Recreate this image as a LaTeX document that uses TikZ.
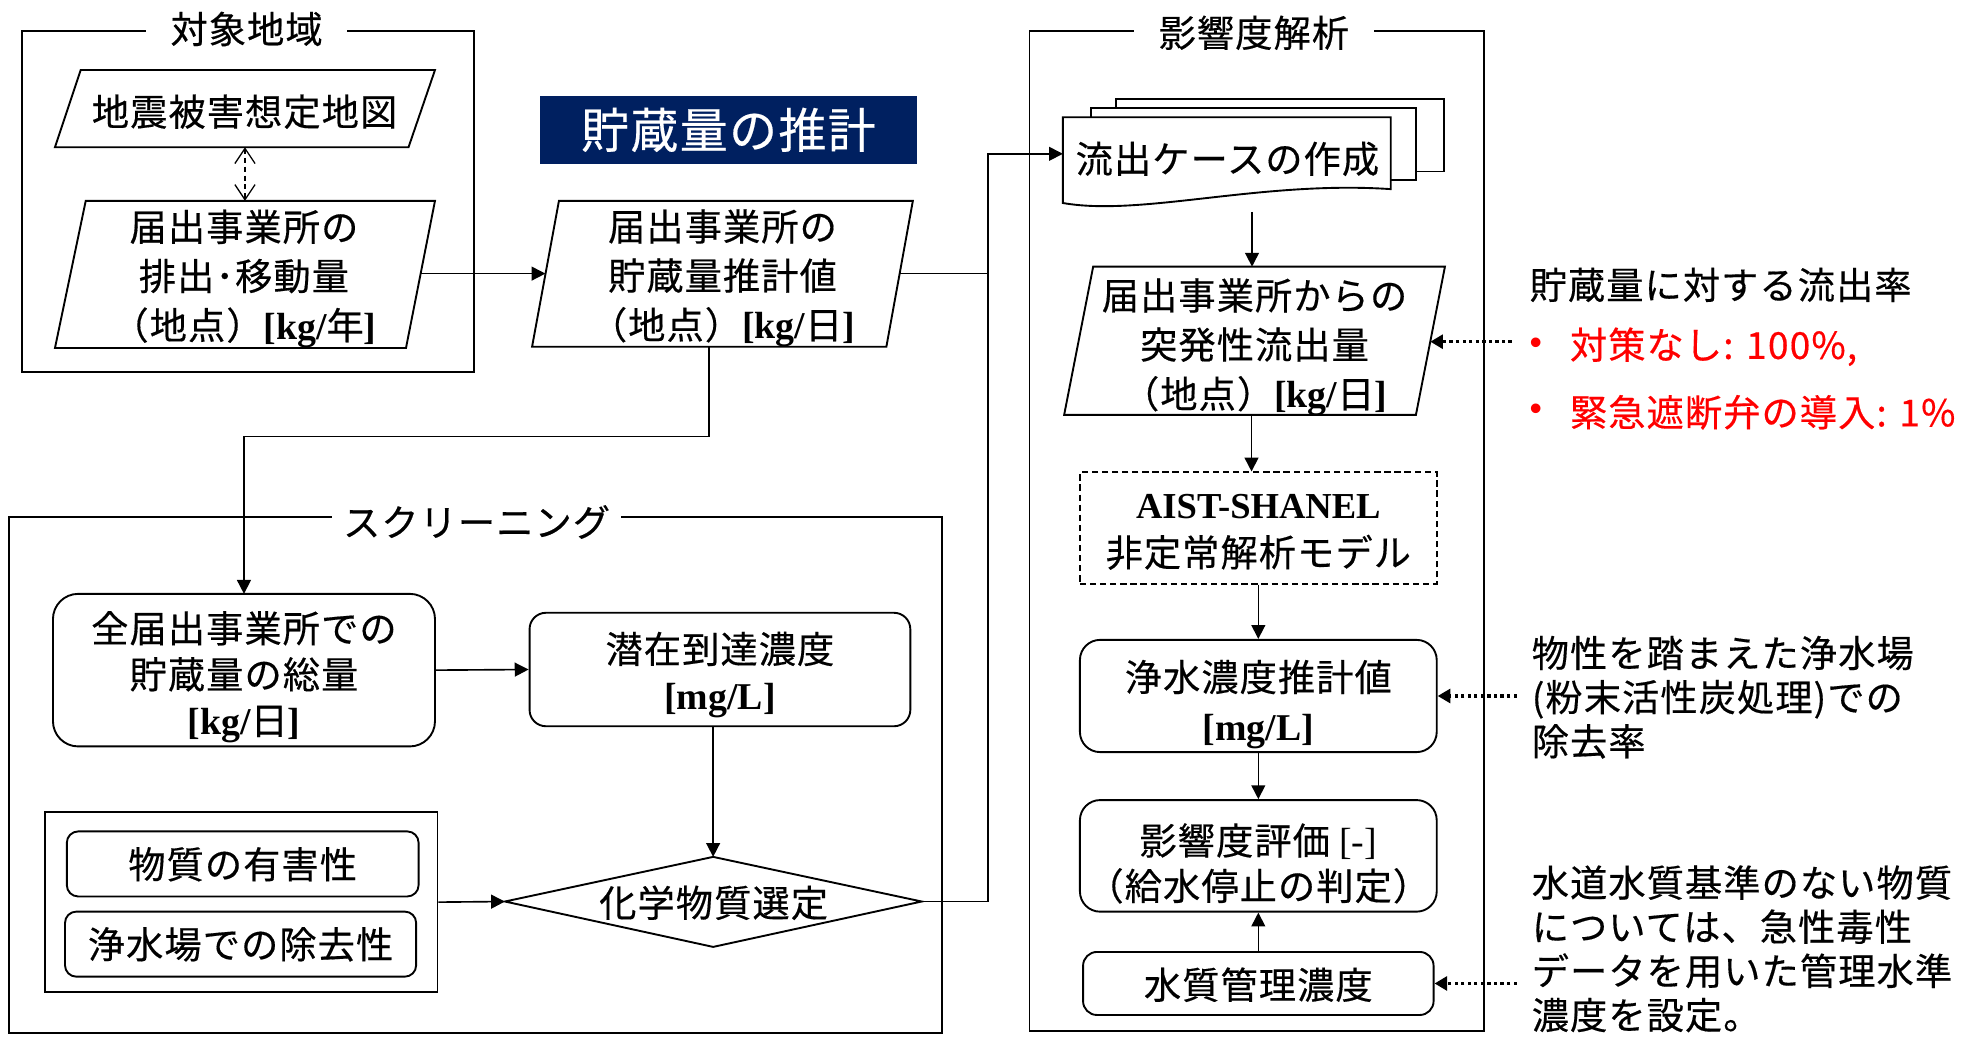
\documentclass[tikz,border=0pt]{standalone}
\usepackage{fontspec}
\newfontfamily\jp[LetterSpace=3,FakeBold=0.4]{Noto Sans CJK JP}
\newfontfamily\tnr{Liberation Serif}
\newfontfamily\lsans{Liberation Sans}
\usetikzlibrary{arrows.meta}
\definecolor{navyblue}{HTML}{002060}
\definecolor{alertred}{HTML}{FF0000}
\newcommand{\Ulat}[1]{{\tnr\bfseries\fontsize{30}{30}\selectfont #1}}
\begin{document}
\begin{tikzpicture}[x=1pt,y=-1pt,
  frm/.style={draw,line width=1.5pt},
  shp/.style={draw,line width=1.5pt,fill=white},
  conn/.style={line width=1.3pt},
  arr/.style={conn,-{Triangle[length=11pt,width=11pt]}},
  dotarr/.style={line width=2.6pt,dash pattern=on 2.6pt off 2.6pt,-{Triangle[length=10pt,width=11pt]}},
  txt/.style={font=\jp\fontsize{29.5}{38}\selectfont,align=center,inner sep=0pt},
  note/.style={font=\jp\fontsize{29.5}{35}\selectfont,align=left,inner sep=0pt,anchor=west},
  ttl/.style={font=\jp\fontsize{29.5}{30}\selectfont,fill=white,inner sep=0pt,minimum height=30pt},
  rbox/.style={draw,line width=1.5pt,fill=white,rounded corners=#1,inner sep=0pt},
  rbox/.default=16pt
]
\useasboundingbox (0,0) rectangle (1568,822);

% ---------- frames ----------
\draw[frm] (17.5,24.6) rectangle (376,295);
\draw[frm] (816.5,24.6) rectangle (1177,817.6);
\draw[frm] (7.4,409.7) rectangle (746.8,819);
\node[ttl,minimum width=160] (ttlA) at (195.6,23) {対象地域};
\node[ttl,minimum width=191] (ttlB) at (994.5,26) {影響度解析};
\node[ttl,minimum width=229] (ttlC) at (378,414) {スクリーニング};

% ---------- named points ----------
\coordinate (p0b) at (194.3,116.8);
\coordinate (p1top) at (194.3,159.3);
\coordinate (p1r) at (333.6,217);
\coordinate (p2l) at (432.6,217);
\coordinate (p2r) at (713.5,217);
\coordinate (p2b) at (562.5,275);
\coordinate (h1) at (562.5,346.3);
\coordinate (jn) at (783.5,217);
\coordinate (docL) at (843,122);
\coordinate (docB) at (993,168);
\coordinate (p3t) at (993,211.5);
\coordinate (p3b) at (992.6,329);
\coordinate (p3r) at (1134.4,271);
\coordinate (diaL) at (400.5,715);
\coordinate (diaR) at (731,715);
\coordinate (diaT) at (565.6,679.6);
\coordinate (diaB) at (565.6,751);
\coordinate (n1) at (1199,271);
\coordinate (n2) at (1203,552);
\coordinate (n3) at (1203,780);

% ---------- connectors ----------
\draw[line width=1pt,dash pattern=on 4pt off 3pt,
  {Straight Barb[length=12pt,width=16pt]}-{Straight Barb[length=12pt,width=16pt]}] (p0b) -- (p1top);
\draw[arr] (p1r) -- (p2l);
\draw[arr] (p2r) -- (jn) |- (docL);
\draw[conn] (diaR) -| (jn);
\draw[arr] (p2b) -- (h1) -| (193.5,471);
\draw[arr] (docB) -- (p3t);

% ---------- 対象地域 ----------
\draw[shp] (64,55.5) -- (345,55.5) -- (324,116.8) -- (43.6,116.8) -- cycle;
\node[txt] (t0) at (194,88.6) {地震被害想定地図};
\draw[shp] (68,159.3) -- (345,159.3) -- (322,276) -- (43.6,276) -- cycle;
\node[txt,font=\jp\fontsize{29.5}{39}\selectfont] (t1) at (193.5,221) {届出事業所の\\排出･移動量\\（地点）\Ulat{[kg/}年\Ulat{]}};

% ---------- 貯蔵量の推計 ----------
\node[fill=navyblue,text=white,inner sep=0pt,minimum width=298.5,minimum height=54,
  font=\jp\fontsize{38}{40}\selectfont] (banner) at (577.75,103) {貯蔵量の推計};
\draw[shp] (443.3,159.3) -- (724,159.3) -- (703,275) -- (422,275) -- cycle;
\node[txt,font=\jp\fontsize{29.5}{39}\selectfont] (t2) at (573,220.7) {届出事業所の\\貯蔵量推計値\\（地点）\Ulat{[kg/}日\Ulat{]}};

% ---------- スクリーニング ----------
\node[rbox=20pt,minimum width=303,minimum height=121] (all) at (193.5,531.5) {};
\node[txt,font=\jp\fontsize{29.5}{36.5}\selectfont] (tall) at (193.5,536.9) {全届出事業所での\\貯蔵量の総量\\\Ulat{[kg/}日\Ulat{]}};
\node[rbox=13pt,minimum width=302,minimum height=90] (sen) at (571,531) {};
\node[txt,font=\jp\fontsize{29.5}{37}\selectfont] (tsen) at (571,535.3) {潜在到達濃度\\\Ulat{[mg/L]}};
\draw[arr] (all.east) -- (sen.west);
\draw[arr] (sen.south -| diaT) -- (diaT);
\node[draw,line width=1.5pt,minimum width=311,minimum height=143,inner sep=0pt] (inb) at (191.5,715.5) {};
\node[rbox=9pt,minimum width=279,minimum height=51.6] (yg) at (192.5,685.2) {};
\node[txt] (tyg) at (192.5,685.5) {物質の有害性};
\node[rbox=9pt,minimum width=278.5,minimum height=51.6] (jk) at (190.8,748.8) {};
\node[txt] (tjk) at (190.8,749) {浄水場での除去性};
\draw[arr] (inb.east) -- (diaL);
\draw[shp] (diaL) -- (diaT) -- (diaR) -- (diaB) -- cycle;
\node[txt] (tdia) at (566,716) {化学物質選定};

% ---------- 影響度解析 ----------
\draw[shp] (885,78.5) rectangle (1145,136);
\draw[shp] (865,86) rectangle (1123,143);
\draw[shp] (843,93) -- (1103,93) -- (1103,150) .. controls (1000,143) and (905,172) .. (843,161) -- cycle;
\node[txt] (tdoc) at (973.5,126) {流出ケースの作成};

\draw[shp] (867,211.5) -- (1146,211.5) -- (1123,329) -- (844,329) -- cycle;
\node[txt,font=\jp\fontsize{29.5}{39}\selectfont] (t3) at (995,275.4) {届出事業所からの\\突発性流出量\\（地点）\Ulat{[kg/}日\Ulat{]}};

\node[draw,line width=1.3pt,dash pattern=on 5pt off 3pt,minimum width=283,minimum height=88.4,inner sep=0pt] (aist) at (998,418.8) {};
\node[txt] (taist) at (998,422) {{\tnr\bfseries\fontsize{29}{30}\selectfont AIST-SHANEL}\\非定常解析モデル};
\node[rbox=16pt,minimum width=283,minimum height=89] (jo) at (998,552) {};
\node[txt,font=\jp\fontsize{29.5}{39.5}\selectfont] (tjo) at (998,558.8) {浄水濃度推計値\\\Ulat{[mg/L]}};
\node[rbox=16pt,minimum width=283,minimum height=88.5] (hy) at (998,678.8) {};
\node[txt,font=\jp\fontsize{29.5}{36}\selectfont] (thy) at (998,684.8) {影響度評価 {\tnr\fontsize{30}{30}\selectfont [-]}\\（給水停止の判定）};
\node[rbox=11pt,minimum width=278,minimum height=50] (su) at (998,780) {};
\node[txt] (tsu) at (998,781) {水質管理濃度};

\draw[arr] (p3b) -- (p3b |- aist.north);
\draw[arr] (aist.south) -- (jo.north);
\draw[arr] (jo.south) -- (hy.north);
\draw[arr] (su.north) -- (hy.south);

% ---------- notes ----------
\draw[dotarr] (n1) -- (p3r);
\draw[dotarr] (n2) -- (jo.east);
\draw[dotarr] (n3) -- (su.east);

\node[note] (nt1) at (1213,226) {貯蔵量に対する流出率};
\node[font=\lsans\fontsize{28}{30}\selectfont,text=alertred,inner sep=0pt] (b1) at (1218,275) {•};
\node[note,text=alertred] (r1) at (1245,275) {対策なし: 100\%,};
\node[font=\lsans\fontsize{28}{30}\selectfont,text=alertred,inner sep=0pt] (b2) at (1218,327) {•};
\node[note,text=alertred] (r2) at (1245,327) {緊急遮断弁の導入: 1\%};
\node[note] (nt2) at (1214.7,553) {物性を踏まえた浄水場\\(粉末活性炭処理)での\\除去率};
\node[note] (nt3) at (1214.7,752.5) {水道水質基準のない物質\\については、急性毒性\\データを用いた管理水準\\濃度を設定。};
\end{tikzpicture}
\end{document}
